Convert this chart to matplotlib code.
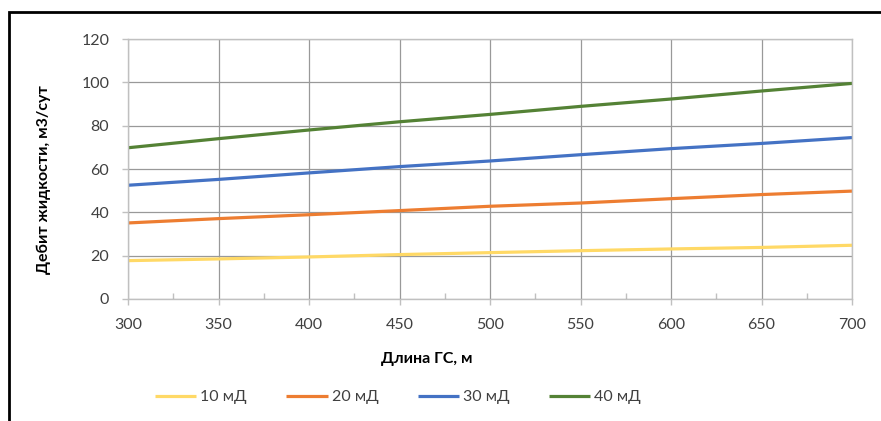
import matplotlib.pyplot as plt
import numpy as np
from matplotlib.patches import Rectangle
from matplotlib.ticker import MultipleLocator

plt.rcParams['font.family'] = ['Lato', 'DejaVu Sans']

# данные
length = [300, 350, 400, 450, 500, 550, 600, 650, 700]
q_10 = [17.7, 18.5, 19.4, 20.5, 21.4, 22.3, 23.1, 23.8, 24.8]
q_20 = [35.1, 37.1, 38.9, 40.8, 42.8, 44.3, 46.3, 48.2, 49.8]
q_30 = [52.5, 55.2, 58.2, 61.1, 63.7, 66.6, 69.4, 71.8, 74.5]
q_40 = [69.8, 74.0, 78.0, 81.8, 85.2, 88.9, 92.3, 96.0, 99.5]
labels = ['10 мД', '20 мД', '30 мД', '40 мД']
colors = ['#FFD966', '#ED7D31', '#4472C4', '#548235']

fig = plt.figure(figsize=(8.81, 4.21), dpi=100)
ax = fig.add_axes([128 / 881, 1 - 299 / 421, 724 / 881, 260 / 421])

for q, lab, c in zip([q_10, q_20, q_30, q_40], labels, colors):
    ax.plot(length, q, color=c, lw=2.3, label=lab, solid_capstyle='butt')

ax.set_xlim(300, 700)
ax.set_ylim(0, 120)
ax.xaxis.set_major_locator(MultipleLocator(50))
ax.xaxis.set_minor_locator(MultipleLocator(25))
ax.yaxis.set_major_locator(MultipleLocator(20))

ax.grid(True, which='major', color='#999999', lw=0.9)
ax.set_axisbelow(True)
for s in ax.spines.values():
    s.set_color('#c0c0c0')
    s.set_linewidth(1.0)

ax.tick_params(axis='both', which='major', colors='#c0c0c0', labelcolor='#404040',
               labelsize=11.5, length=4.5, width=1.0, pad=9)
ax.tick_params(axis='x', which='minor', direction='in', length=4, width=1.0, colors='#c0c0c0')

# подписи осей
fig.text(44 / 881, 1 - 180 / 421, 'Дебит жидкости, м3/сут', rotation=90, ha='center', va='center',
         fontsize=11.5, fontweight='bold', color='black')
fig.text(427 / 881, 1 - 359 / 421, 'Длина ГС, м', ha='center', va='center',
         fontsize=11.5, fontweight='bold', color='black')

fig.legend(loc='center', bbox_to_anchor=(398 / 881, 1 - 397 / 421), ncol=4, frameon=False,
           fontsize=11.5, handlelength=2.6, handletextpad=0.25, columnspacing=2.45,
           labelcolor='#404040')

# рамка диаграммы
fig.add_artist(Rectangle((9 / 881, -0.5), 2, 1.5 - 12 / 421, transform=fig.transFigure,
                         fill=False, edgecolor='black', lw=2))

fig.savefig('out.png', dpi=100)
